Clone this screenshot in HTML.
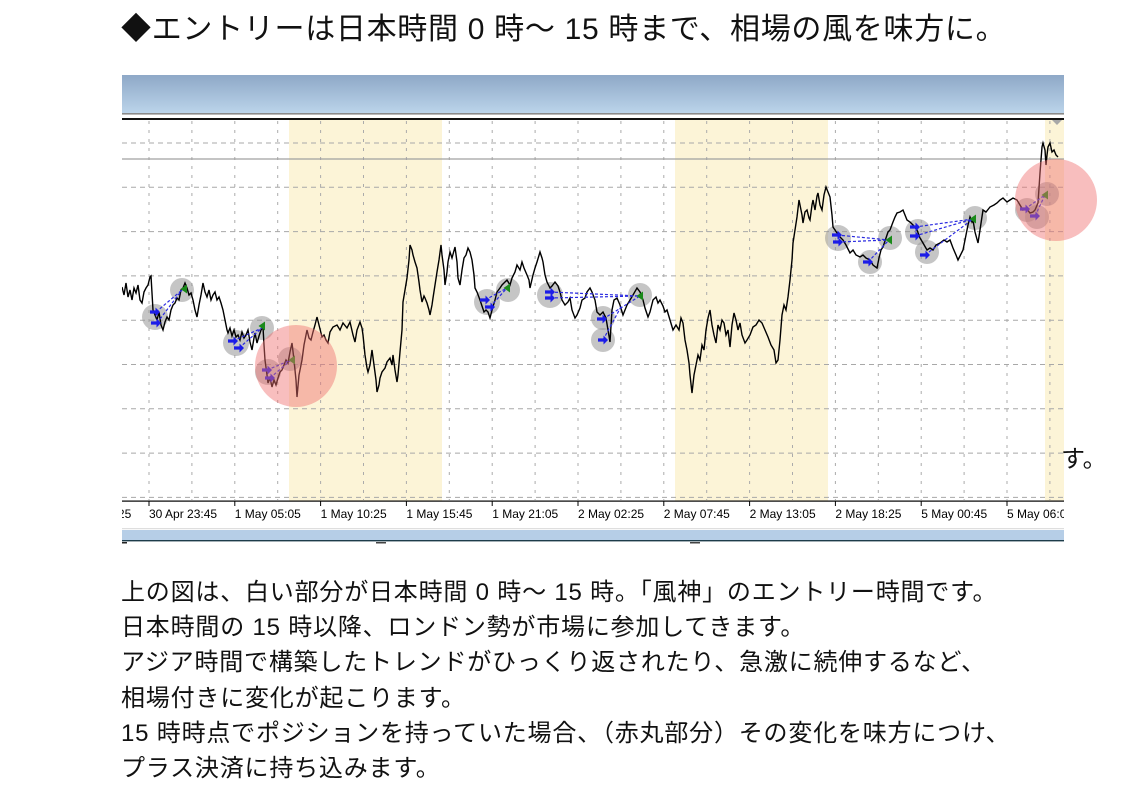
<!DOCTYPE html>
<html lang="ja">
<head>
<meta charset="utf-8">
<style>
  html,body{margin:0;padding:0;background:#fff;}
  body{width:1134px;height:810px;position:relative;overflow:hidden;
       font-family:"Liberation Sans","Noto Sans CJK JP",sans-serif;color:#111;}
  .t{position:absolute;white-space:nowrap;}
  .title{left:121px;top:10px;font-size:30px;line-height:40px;letter-spacing:0.7px;}
  .b{left:121px;font-size:24px;line-height:36px;letter-spacing:0.8px;}
  svg{position:absolute;left:0;top:0;}
</style>
</head>
<body>
<svg width="1134" height="810" viewBox="0 0 1134 810" xmlns="http://www.w3.org/2000/svg">
  <defs>
    <linearGradient id="hdr" x1="0" y1="0" x2="0" y2="1">
      <stop offset="0" stop-color="#8ea8c7"/>
      <stop offset="1" stop-color="#bbd4ea"/>
    </linearGradient>
    <clipPath id="plot"><rect x="122" y="120" width="942" height="381"/></clipPath>
    <clipPath id="lab"><rect x="122" y="502" width="942" height="26"/></clipPath>
    <symbol id="arw" viewBox="-6 -6 12 12" overflow="visible">
      <path d="M-5,-1.6 L0.5,-1.6 L0.5,-4.5 L5,0 L0.5,4.5 L0.5,1.6 L-5,1.6 Z" fill="#1c1ce8"/>
    </symbol>
    <symbol id="tri" viewBox="-6 -6 12 12" overflow="visible">
      <path d="M-3.5,0 L3,-4.5 L3,4.5 Z" fill="#1a8a1a"/>
    </symbol>
  </defs>

  <!-- header bar -->
  <rect x="122" y="75" width="942" height="38" fill="url(#hdr)"/>
  <rect x="122" y="113" width="942" height="1.6" fill="#8a8a8a"/>
  <rect x="122" y="118" width="942" height="2.2" fill="#111"/>

  <!-- plot background & bands -->
  <g clip-path="url(#plot)">
    <rect x="122" y="120" width="942" height="381" fill="#fff"/>
    <rect x="289" y="120" width="153" height="381" fill="#fcf4d7"/>
    <rect x="675" y="120" width="153" height="381" fill="#fcf4d7"/>
    <rect x="1045" y="120" width="19" height="381" fill="#fcf4d7"/>

    <!-- vertical grid -->
    <g stroke="#ababab" stroke-width="1" stroke-dasharray="3 6">
      <line x1="149" y1="121" x2="149" y2="500"/>
      <line x1="191.9" y1="121" x2="191.9" y2="500"/>
      <line x1="234.8" y1="121" x2="234.8" y2="500"/>
      <line x1="277.7" y1="121" x2="277.7" y2="500"/>
      <line x1="320.6" y1="121" x2="320.6" y2="500"/>
      <line x1="363.5" y1="121" x2="363.5" y2="500"/>
      <line x1="406.4" y1="121" x2="406.4" y2="500"/>
      <line x1="449.3" y1="121" x2="449.3" y2="500"/>
      <line x1="492.2" y1="121" x2="492.2" y2="500"/>
      <line x1="535.1" y1="121" x2="535.1" y2="500"/>
      <line x1="578" y1="121" x2="578" y2="500"/>
      <line x1="620.9" y1="121" x2="620.9" y2="500"/>
      <line x1="663.8" y1="121" x2="663.8" y2="500"/>
      <line x1="706.7" y1="121" x2="706.7" y2="500"/>
      <line x1="749.6" y1="121" x2="749.6" y2="500"/>
      <line x1="792.5" y1="121" x2="792.5" y2="500"/>
      <line x1="835.4" y1="121" x2="835.4" y2="500"/>
      <line x1="878.3" y1="121" x2="878.3" y2="500"/>
      <line x1="921.2" y1="121" x2="921.2" y2="500"/>
      <line x1="964.1" y1="121" x2="964.1" y2="500"/>
      <line x1="1007" y1="121" x2="1007" y2="500"/>
      <line x1="1049.9" y1="121" x2="1049.9" y2="500"/>
    </g>
    <!-- horizontal grid -->
    <g stroke="#a8a8a8" stroke-width="1" stroke-dasharray="5 4">
      <line x1="122" y1="143" x2="1064" y2="143"/>
      <line x1="122" y1="187.3" x2="1064" y2="187.3"/>
      <line x1="122" y1="231.6" x2="1064" y2="231.6"/>
      <line x1="122" y1="275.9" x2="1064" y2="275.9"/>
      <line x1="122" y1="320.2" x2="1064" y2="320.2"/>
      <line x1="122" y1="364.5" x2="1064" y2="364.5"/>
      <line x1="122" y1="408.8" x2="1064" y2="408.8"/>
      <line x1="122" y1="453.1" x2="1064" y2="453.1"/>
      <line x1="122" y1="497.4" x2="1064" y2="497.4"/>
    </g>
    <line x1="122" y1="159" x2="1064" y2="159" stroke="#a0a0a0" stroke-width="1.2"/>
    <polygon points="1052,120 1062,120 1057,125" fill="#a8a8a8"/>

    <!-- gray trade circles -->
    <g fill="rgb(150,150,150)" fill-opacity="0.55">
      <circle cx="155" cy="317" r="13"/>
      <circle cx="182" cy="290" r="12"/>
      <circle cx="236" cy="343" r="13"/>
      <circle cx="262" cy="328" r="12"/>
      <circle cx="268" cy="372" r="13"/>
      <circle cx="290" cy="359" r="12"/>
      <circle cx="487" cy="302" r="13"/>
      <circle cx="508" cy="290" r="12"/>
      <circle cx="550" cy="295" r="13"/>
      <circle cx="603" cy="318" r="12"/>
      <circle cx="603" cy="340" r="12"/>
      <circle cx="640" cy="295" r="12"/>
      <circle cx="838" cy="238" r="13"/>
      <circle cx="870" cy="262" r="12"/>
      <circle cx="890" cy="238" r="12"/>
      <circle cx="918" cy="232" r="13"/>
      <circle cx="927" cy="252" r="12"/>
      <circle cx="975" cy="218" r="12"/>
      <circle cx="1027" cy="210" r="12"/>
      <circle cx="1037" cy="217" r="12"/>
      <circle cx="1047" cy="194" r="12"/>
    </g>

    <!-- price line -->
    <polyline fill="none" stroke="#000" stroke-width="1.4" stroke-linejoin="miter" points="
122,287 124,295 126,283 128,297 130,290 132,300 134,288 136,293 138,285 140,300 142,303 144,292 146,288 148,285 150,277 151,276 153,310 155,315 157,320 159,312 161,325 163,330 165,322 167,317 169,320 171,310 173,305 175,303 177,298 179,300 181,290 183,288 185,283 187,288 189,295 191,293 193,300 195,310 197,317 199,305 201,295 203,283 205,292 207,297 209,290 211,300 213,295 215,292 217,300 219,297 221,303 223,310 225,320 227,330 228,333 230,328 232,336 234,330 236,337 238,335 240,340 242,332 244,338 246,335 248,330 250,342 252,350 254,338 255,333 257,343 259,336 261,330 263,327 264,345 265,360 267,375 268,383 270,378 272,387 274,380 276,385 278,378 280,372 282,370 284,365 286,360 288,363 290,352 292,343 294,360 296,380 297,397 299,375 301,365 302,360 304,345 306,335 307,330 309,338 311,340 313,332 315,325 317,317 319,325 321,333 322,337 324,335 326,340 328,343 330,332
333,327 337,325 340,330 343,323 347,328 350,322 353,335 355,342 357,330 360,322 362,328 363,335 365,355 367,368 368,372 370,365 372,350 374,365 376,380 377,392 379,385 380,378 382,372 385,368 387,362 390,358 392,365 393,355 395,370 397,382 398,375 400,352 402,330 403,302 405,290 407,278 409,260 410,245 412,250 413,255 415,262 417,268 418,275 419,282 420,290 422,302 424,296 425,298 427,303 429,310 430,315 432,305 433,298 435,285 437,272 439,260 441,245 442,255 444,270 445,285 447,272 448,262 450,252 452,258 455,247 457,262 458,278 460,285 462,270 464,258 466,255 468,248 470,252 472,260 474,275 475,288 477,292 480,300 482,306 484,312 486,310 488,312 490,318 492,310 495,300 497,292 500,288 502,285 505,282 507,280 510,285 512,278 515,272 517,265 520,270 522,262 524,268 527,275 529,280 530,288 533,275 535,268 537,262 540,252 542,258 543,262 545,275 547,282 550,288 552,286 555,282 558,286 560,292 562,300 565,305 568,302 570,298 572,310 575,318 577,315 580,308 582,300 585,298 587,292 590,288 592,292 595,300 597,312 600,315 603,312 606,318 608,330 610,342 612,310 614,300 617,298 620,305 623,315 627,305 630,300 633,295 637,288 640,292
643,300 645,308 648,317 650,312 653,300 656,297 658,303 660,300 663,306 665,312 667,310 670,320 673,330 676,325 679,330 681,318 683,323 685,340 687,350 689,363 690,375 692,393 694,375 696,365 698,355 700,360 702,345 704,350 706,330 708,318 710,310 712,325 714,335 716,343 718,325 720,330 722,320 724,323 726,335 728,330 730,347 732,325 734,313 736,320 738,330 740,323 742,335 745,343 747,340 750,335 753,327 756,325 759,320 762,323 765,330 768,337 771,345 774,350 776,363 778,360 780,340 782,315 784,305 786,310 788,297 790,280 792,260 793,243 795,230 797,217 799,200 800,205 802,215 803,223 805,212 807,210 809,218 810,220 812,205 813,200 815,210 817,196 818,193 820,205 822,210 824,195 826,187 828,192 830,197 832,215 833,227 835,230 837,233 840,237 843,240 846,245 850,253 853,250 856,255 860,257 863,255 866,258 870,260 873,265 877,268 879,258 881,250 883,247 886,238 888,232 890,230 893,222 895,217 897,213 900,212 903,210 905,215 907,220 910,222 913,225 917,230 920,238 923,243 927,250 930,248 933,250 936,245 940,243 944,240 947,242 950,240 953,248 956,255 958,260 960,256 963,250 966,235 968,225 970,217 972,222 973,220 975,232 978,243 980,230 983,210 986,212 990,207 994,205 997,203 1000,200 1003,198 1007,202 1010,200 1013,198 1017,200 1020,205 1023,210 1026,208 1030,213 1033,212 1035,210 1038,203 1040,173 1042,147 1043,143 1045,150 1046,165 1047,155 1048,147 1050,143 1052,152 1054,150 1056,155 1058,157"/>

    <!-- dashed trade links -->
    <g stroke="#2a2ae0" stroke-width="1.2" stroke-dasharray="3 2" fill="none">
      <line x1="156" y1="312" x2="182" y2="290"/>
      <line x1="157" y1="323" x2="182" y2="290"/>
      <line x1="233" y1="341" x2="262" y2="328"/>
      <line x1="239" y1="348" x2="262" y2="328"/>
      <line x1="267" y1="370" x2="291" y2="360"/>
      <line x1="270" y1="378" x2="291" y2="360"/>
      <line x1="485" y1="300" x2="507" y2="288"/>
      <line x1="490" y1="307" x2="507" y2="288"/>
      <line x1="550" y1="292" x2="640" y2="296"/>
      <line x1="550" y1="298" x2="640" y2="296"/>
      <line x1="603" y1="319" x2="640" y2="296"/>
      <line x1="603" y1="340" x2="622" y2="305"/>
      <line x1="837" y1="235" x2="889" y2="240"/>
      <line x1="838" y1="242" x2="889" y2="240"/>
      <line x1="868" y1="262" x2="889" y2="240"/>
      <line x1="915" y1="227" x2="973" y2="219"/>
      <line x1="915" y1="236" x2="973" y2="219"/>
      <line x1="925" y1="255" x2="973" y2="219"/>
      <line x1="1025" y1="209" x2="1045" y2="195"/>
      <line x1="1035" y1="216" x2="1045" y2="195"/>
    </g>
    <!-- entry arrows -->
    <g>
      <use href="#arw" x="149" y="306" width="12" height="12"/>
      <use href="#arw" x="150" y="317" width="12" height="12"/>
      <use href="#arw" x="227" y="335" width="12" height="12"/>
      <use href="#arw" x="233" y="342" width="12" height="12"/>
      <use href="#arw" x="261" y="364" width="12" height="12"/>
      <use href="#arw" x="264" y="372" width="12" height="12"/>
      <use href="#arw" x="479" y="294" width="12" height="12"/>
      <use href="#arw" x="484" y="301" width="12" height="12"/>
      <use href="#arw" x="544" y="286" width="12" height="12"/>
      <use href="#arw" x="544" y="292" width="12" height="12"/>
      <use href="#arw" x="596" y="313" width="12" height="12"/>
      <use href="#arw" x="597" y="334" width="12" height="12"/>
      <use href="#arw" x="831" y="229" width="12" height="12"/>
      <use href="#arw" x="832" y="236" width="12" height="12"/>
      <use href="#arw" x="862" y="256" width="12" height="12"/>
      <use href="#arw" x="909" y="221" width="12" height="12"/>
      <use href="#arw" x="909" y="230" width="12" height="12"/>
      <use href="#arw" x="919" y="249" width="12" height="12"/>
      <use href="#arw" x="1019" y="203" width="12" height="12"/>
      <use href="#arw" x="1029" y="210" width="12" height="12"/>
    </g>
    <!-- exit triangles -->
    <g>
      <use href="#tri" x="178" y="283" width="12" height="12"/>
      <use href="#tri" x="256" y="320" width="12" height="12"/>
      <use href="#tri" x="286" y="354" width="12" height="12"/>
      <use href="#tri" x="501" y="282" width="12" height="12"/>
      <use href="#tri" x="634" y="290" width="12" height="12"/>
      <use href="#tri" x="883" y="234" width="12" height="12"/>
      <use href="#tri" x="967" y="213" width="12" height="12"/>
      <use href="#tri" x="1039" y="189" width="12" height="12"/>
    </g>
  </g>

  <!-- red highlight circles -->
  <circle cx="296" cy="366" r="41" fill="rgb(240,110,110)" fill-opacity="0.45"/>
  <circle cx="1056" cy="200" r="41" fill="rgb(240,110,110)" fill-opacity="0.45"/>

  <!-- x axis -->
  <rect x="122" y="500.5" width="942" height="1.2" fill="#000"/>
  <g stroke="#000" stroke-width="1">
    <line x1="149" y1="501" x2="149" y2="506"/>
    <line x1="234.8" y1="501" x2="234.8" y2="506"/>
    <line x1="320.6" y1="501" x2="320.6" y2="506"/>
    <line x1="406.4" y1="501" x2="406.4" y2="506"/>
    <line x1="492.2" y1="501" x2="492.2" y2="506"/>
    <line x1="578" y1="501" x2="578" y2="506"/>
    <line x1="663.8" y1="501" x2="663.8" y2="506"/>
    <line x1="749.6" y1="501" x2="749.6" y2="506"/>
    <line x1="835.4" y1="501" x2="835.4" y2="506"/>
    <line x1="921.2" y1="501" x2="921.2" y2="506"/>
    <line x1="1007" y1="501" x2="1007" y2="506"/>
  </g>
  <g clip-path="url(#lab)" font-family="Liberation Sans, sans-serif" font-size="12" fill="#000">
    <text x="63.2" y="518">30 Apr 18:25</text>
    <text x="149" y="518">30 Apr 23:45</text>
    <text x="234.8" y="518">1 May 05:05</text>
    <text x="320.6" y="518">1 May 10:25</text>
    <text x="406.4" y="518">1 May 15:45</text>
    <text x="492.2" y="518">1 May 21:05</text>
    <text x="578" y="518">2 May 02:25</text>
    <text x="663.8" y="518">2 May 07:45</text>
    <text x="749.6" y="518">2 May 13:05</text>
    <text x="835.4" y="518">2 May 18:25</text>
    <text x="921.2" y="518">5 May 00:45</text>
    <text x="1007" y="518">5 May 06:05</text>
  </g>
  <rect x="122" y="528" width="942" height="1.2" fill="#dedede"/>
  <rect x="122" y="530" width="942" height="10" fill="#b6cee7"/>
  <rect x="122" y="540" width="942" height="1.4" fill="#1d3c4a"/>
  <rect x="122" y="542" width="5" height="1.5" fill="#222"/>
  <rect x="376" y="542" width="10" height="1.5" fill="#444"/>
  <rect x="690" y="542" width="10" height="1.5" fill="#444"/>
</svg>

<div class="t title">◆エントリーは日本時間 0 時～ 15 時まで、相場の風を味方に。</div>

<div class="t b" style="top:575px;">上の図は、白い部分が日本時間 0 時～ 15 時。「風神」のエントリー時間です。</div>
<div class="t b" style="top:610px;">日本時間の 15 時以降、ロンドン勢が市場に参加してきます。</div>
<div class="t b" style="top:645px;">アジア時間で構築したトレンドがひっくり返されたり、急激に続伸するなど、</div>
<div class="t b" style="top:681px;">相場付きに変化が起こります。</div>
<div class="t b" style="top:716px;">15 時時点でポジションを持っていた場合、（赤丸部分）その変化を味方につけ、</div>
<div class="t b" style="top:751px;">プラス決済に持ち込みます。</div>

<div class="t b" style="left:1061px;top:442px;letter-spacing:0;">す。</div>
</body>
</html>
